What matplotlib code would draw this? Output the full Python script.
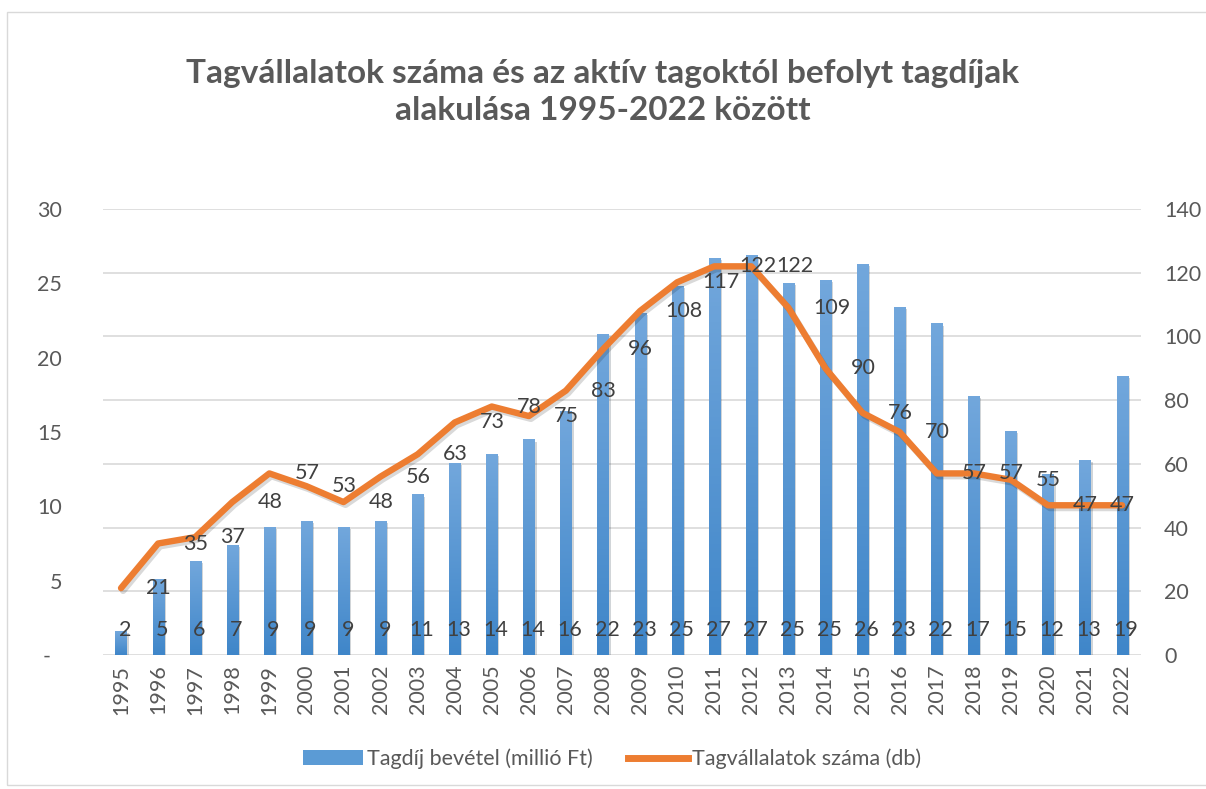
import matplotlib
matplotlib.use("Agg")
import matplotlib.pyplot as plt
import matplotlib.patheffects as pe
from matplotlib.patches import Patch, Rectangle
from matplotlib.lines import Line2D
from matplotlib.colors import LinearSegmentedColormap
import numpy as np

# data
years = list(range(1995, 2023))
fee_income = [1.6, 5.1, 6.3, 7.4, 8.6, 9.0, 8.6, 9.0, 10.8, 12.9, 13.5, 14.5, 16.4, 21.6,
              23.0, 24.8, 26.7, 26.9, 25.0, 25.2, 26.3, 23.4, 22.3, 17.4, 15.1, 12.2, 13.1, 18.8]
members = [21, 35, 37, 48, 57, 53, 48, 56, 63, 73, 78, 75, 83, 96,
           108, 117, 122, 122, 109, 90, 76, 70, 57, 57, 55, 47, 47, 47]

title = "Tagvállalatok száma és az aktív tagoktól befolyt tagdíjak\nalakulása 1995-2022 között"
bar_name = "Tagdíj bevétel (millió Ft)"
line_name = "Tagvállalatok száma (db)"

plt.rcParams['font.family'] = ['Lato', 'DejaVu Sans']
txt = '#595959'
lbl = '#404040'
blue = '#5B9BD5'
orange = '#ED7D31'
grid_c = '#D9D9D9'
fs = 15.5

W, H = 1206, 789
fig = plt.figure(figsize=(W / 100, H / 100), dpi=100)
ax = fig.add_axes([102.5 / W, (H - 655) / H, (1140.6 - 102.5) / W, (655 - 209) / H])
ax2 = ax.twinx()

# chart border
fig.patches.append(Rectangle((7 / W, 4 / H), 1.2, (H - 16) / H, transform=fig.transFigure,
                             fill=False, ec='#D9D9D9', lw=1))

x = np.arange(len(years))

# gridlines follow the right axis
for v in np.arange(0, 141, 20):
    ax.axhline(v * 30 / 140, color=grid_c, lw=1.2, zorder=0)

bw = 0.3
bars = ax.bar(x, fee_income, width=bw, color=blue, zorder=2,
              path_effects=[pe.SimplePatchShadow(offset=(1.5, -1.5), alpha=0.2), pe.Normal()])
cmap = LinearSegmentedColormap.from_list('g', ['#3F86C9', '#72A7DC'])
grad = np.linspace(0, 1, 100).reshape(-1, 1)
for b in bars:
    im = ax.imshow(grad, extent=[b.get_x(), b.get_x() + bw, 0, b.get_height()],
                   origin='lower', aspect='auto', cmap=cmap, zorder=3)
    im.set_clip_path(b)
ax.set_xlim(-0.5, len(years) - 0.5)
ax.set_ylim(0, 30)
ax2.set_ylim(0, 140)

for i, v in enumerate(fee_income):
    ax.annotate(f"{v:.0f}", (i, 1.68), xytext=(3, 0), textcoords='offset points',
                ha='center', va='center', fontsize=fs, color=lbl, zorder=5)

ax2.plot(x, members, color=orange, lw=4.6, solid_capstyle='round', solid_joinstyle='round',
         zorder=4,
         path_effects=[pe.SimpleLineShadow(offset=(1.5, -2), alpha=0.15), pe.Normal()])
for i, v in enumerate(members[:-1]):
    ax2.annotate(str(v), (i, v), xytext=(18, 0), textcoords='offset points',
                 ha='left', va='center', fontsize=fs, color=lbl, zorder=5)

ax.set_yticks(range(0, 31, 5))
ax.set_yticklabels(['-  '] + [str(v) for v in range(5, 31, 5)])
ax2.set_yticks(range(0, 141, 20))
ax.set_xticks(x)
ax.set_xticklabels([str(y) for y in years], rotation=90)
ax.tick_params(axis='y', length=0, pad=29, labelsize=fs, labelcolor=txt)
ax2.tick_params(axis='y', length=0, pad=17, labelsize=fs, labelcolor=txt)
ax.tick_params(axis='x', length=0, pad=7, labelsize=fs, labelcolor=txt)
for a in (ax, ax2):
    for s in a.spines.values():
        s.set_visible(False)
ax.set_zorder(1)
ax2.set_zorder(2)
ax.patch.set_visible(False)
ax2.patch.set_visible(False)

fig.text(0.5, 1 - 92 / H, title, ha='center', va='center', fontsize=24, fontweight='bold',
         color=txt, linespacing=1.35)

handles = [Patch(facecolor=blue), Line2D([0], [0], color=orange, lw=5)]
fig.legend(handles, [bar_name, line_name], loc='center', bbox_to_anchor=(612 / W, 1 - 759 / H),
           ncol=2, frameon=False, fontsize=fs, labelcolor=txt, handlelength=2.8,
           handletextpad=0.2, columnspacing=1.6)

fig.savefig('out.png', dpi=100, facecolor='white')
